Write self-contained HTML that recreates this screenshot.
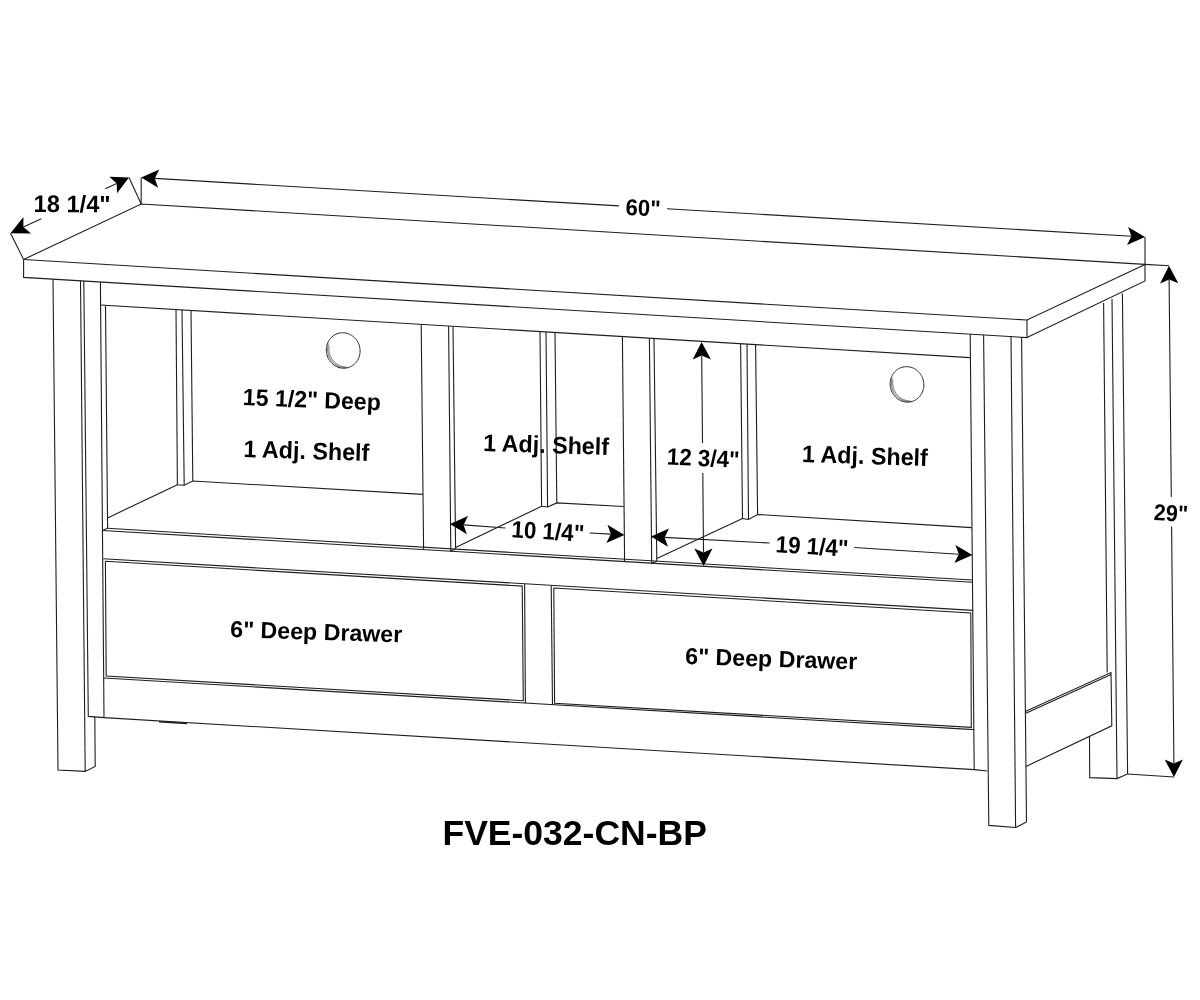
<!DOCTYPE html>
<html><head><meta charset="utf-8"><title>FVE-032-CN-BP</title>
<style>
html,body{margin:0;padding:0;background:#fff;}
svg{display:block;filter:grayscale(1);}
text{font-family:"Liberation Sans",sans-serif;font-weight:bold;fill:#000;}
</style></head>
<body>
<svg width="1200" height="1000" viewBox="0 0 1200 1000">
<rect width="1200" height="1000" fill="#fff"/>
<path d="M23.6,259.5 L141.2,204.0 L1145.0,264.4 L1027.0,320.0 L23.6,259.5" fill="none" stroke="#1e1e1e" stroke-width="1.1"/>
<path d="M23.6,259.5 L23.6,277.4 L1027.0,337.6 L1027.0,320.0" fill="none" stroke="#1e1e1e" stroke-width="1.1"/>
<path d="M1027.0,337.6 L1145.0,281.0 L1145.0,264.4" fill="none" stroke="#1e1e1e" stroke-width="1.1"/>
<path d="M23.6,259.5 L10.5,233.2" fill="none" stroke="#1e1e1e" stroke-width="1.1"/>
<path d="M141.2,204.0 L129.0,177.6" fill="none" stroke="#1e1e1e" stroke-width="1.1"/>
<path d="M10.5,233.2 L23.4,217.1 L23.4,227.1 L31.1,233.6 Z" fill="#000"/>
<path d="M23.4,227.1 L41.3,218.7" fill="none" stroke="#1e1e1e" stroke-width="1.1"/>
<path d="M129.0,177.6 L117.0,193.3 L116.7,183.4 L109.3,176.8 Z" fill="#000"/>
<path d="M116.7,183.4 L105.3,188.7" fill="none" stroke="#1e1e1e" stroke-width="1.1"/>
<text transform="translate(33.60 212.00) rotate(0.4) scale(0.985 1)" font-size="24.0">18 1/4&quot;</text>
<path d="M141.2,204.0 L141.2,177.6" fill="none" stroke="#1e1e1e" stroke-width="1.1"/>
<path d="M1145.0,264.4 L1145.0,237.0" fill="none" stroke="#1e1e1e" stroke-width="1.1"/>
<path d="M141.2,177.6 L159.2,169.5 L154.8,178.4 L158.1,187.7 Z" fill="#000"/>
<path d="M154.8,178.4 L619.0,205.9" fill="none" stroke="#1e1e1e" stroke-width="1.1"/>
<path d="M1145.0,237.0 L1127.0,245.1 L1131.4,236.2 L1128.1,226.9 Z" fill="#000"/>
<path d="M667.0,208.7 L1131.4,236.2" fill="none" stroke="#1e1e1e" stroke-width="1.1"/>
<text transform="translate(625.20 214.90) rotate(2.9) scale(0.95 1)" font-size="23.2">60&quot;</text>
<path d="M1145.0,264.4 L1169.0,265.8" fill="none" stroke="#1e1e1e" stroke-width="1.1"/>
<path d="M1127.6,774.0 L1174.0,777.0" fill="none" stroke="#1e1e1e" stroke-width="1.1"/>
<path d="M1169.0,265.8 L1178.3,283.2 L1169.1,279.4 L1160.1,283.4 Z" fill="#000"/>
<path d="M1169.1,279.4 L1171.3,497.0" fill="none" stroke="#1e1e1e" stroke-width="1.1"/>
<path d="M1174.0,777.0 L1164.7,759.6 L1173.9,763.4 L1182.9,759.4 Z" fill="#000"/>
<path d="M1171.6,526.6 L1173.9,763.4" fill="none" stroke="#1e1e1e" stroke-width="1.1"/>
<text transform="translate(1153.60 520.00) rotate(3) scale(0.935 1)" font-size="23">29&quot;</text>
<path d="M53.0,279.2 L58.0,770.0 L85.2,771.4 L95.2,766.4 L94.8,717.0" fill="none" stroke="#1e1e1e" stroke-width="1.1"/>
<path d="M80.5,280.8 L85.2,771.4" fill="none" stroke="#1e1e1e" stroke-width="1.1"/>
<path d="M83.8,281.0 L88.3,716.4 L104.0,717.6" fill="none" stroke="#1e1e1e" stroke-width="1.1"/>
<path d="M100.4,282.0 L104.0,717.6" fill="none" stroke="#1e1e1e" stroke-width="1.1"/>
<path d="M105.5,305.5 L107.6,528.4" fill="none" stroke="#1e1e1e" stroke-width="1.1"/>
<path d="M100.4,305.0 L970.0,357.6" fill="none" stroke="#1e1e1e" stroke-width="1.1"/>
<path d="M176.0,309.8 L177.4,484.8 L184.2,485.3 L192.8,481.0 L422.6,494.4" fill="none" stroke="#1e1e1e" stroke-width="1.1"/>
<path d="M182.0,310.1 L184.2,485.3" fill="none" stroke="#1e1e1e" stroke-width="1.1"/>
<path d="M191.0,310.7 L192.8,481.0" fill="none" stroke="#1e1e1e" stroke-width="1.1"/>
<path d="M107.5,517.9 L177.4,484.8" fill="none" stroke="#1e1e1e" stroke-width="1.1"/>
<path d="M421.2,324.6 L423.6,549.6" fill="none" stroke="#1e1e1e" stroke-width="1.1"/>
<path d="M448.6,326.3 L450.8,551.2 L455.6,548.8" fill="none" stroke="#1e1e1e" stroke-width="1.1"/>
<path d="M453.0,326.5 L455.6,548.8" fill="none" stroke="#1e1e1e" stroke-width="1.1"/>
<path d="M455.6,547.6 L541.6,506.3" fill="none" stroke="#1e1e1e" stroke-width="1.1"/>
<path d="M540.0,331.8 L541.6,506.3 L547.6,507.0 L556.8,502.9 L623.7,506.5" fill="none" stroke="#1e1e1e" stroke-width="1.1"/>
<path d="M546.0,332.2 L547.6,507.0" fill="none" stroke="#1e1e1e" stroke-width="1.1"/>
<path d="M555.0,332.7 L556.8,502.9" fill="none" stroke="#1e1e1e" stroke-width="1.1"/>
<path d="M622.4,336.8 L624.6,561.5" fill="none" stroke="#1e1e1e" stroke-width="1.1"/>
<path d="M649.4,338.4 L651.7,563.3 L656.8,561.2" fill="none" stroke="#1e1e1e" stroke-width="1.1"/>
<path d="M654.0,338.7 L656.8,561.2" fill="none" stroke="#1e1e1e" stroke-width="1.1"/>
<path d="M656.8,558.5 L742.5,518.5" fill="none" stroke="#1e1e1e" stroke-width="1.1"/>
<path d="M740.6,343.9 L742.5,518.5 L748.5,519.5 L757.6,514.5 L971.8,527.6" fill="none" stroke="#1e1e1e" stroke-width="1.1"/>
<path d="M747.0,344.3 L748.5,519.5" fill="none" stroke="#1e1e1e" stroke-width="1.1"/>
<path d="M755.6,344.8 L757.6,514.5" fill="none" stroke="#1e1e1e" stroke-width="1.1"/>
<path d="M107.5,528.3 L972.3,580.0" fill="none" stroke="#1e1e1e" stroke-width="1.1"/>
<path d="M107.5,528.3 L102.6,530.5 L972.5,582.3" fill="none" stroke="#1e1e1e" stroke-width="1.1"/>
<path d="M103.3,558.8 L973.3,610.4" fill="none" stroke="#1e1e1e" stroke-width="1.1"/>
<path d="M105.4,561.2 L522.2,586.1 L523.3,700.7 L106.2,676.0 L105.4,561.2" fill="none" stroke="#1e1e1e" stroke-width="1.1"/>
<path d="M524.6,583.8 L525.4,703.3" fill="none" stroke="#1e1e1e" stroke-width="1.1"/>
<path d="M551.2,585.4 L552.5,705.0" fill="none" stroke="#1e1e1e" stroke-width="1.1"/>
<path d="M553.8,588.0 L970.8,612.9 L971.3,727.4 L554.6,703.3 L553.8,588.0" fill="none" stroke="#1e1e1e" stroke-width="1.1"/>
<path d="M104.0,678.0 L974.0,729.6" fill="none" stroke="#1e1e1e" stroke-width="1.1"/>
<path d="M104.0,717.6 L974.2,769.6 L987.3,771.0" fill="none" stroke="#1e1e1e" stroke-width="1.1"/>
<path d="M159.0,721.8 L187.0,723.4" fill="none" stroke="#1e1e1e" stroke-width="1.6"/>
<path d="M970.2,334.2 L974.2,769.6" fill="none" stroke="#1e1e1e" stroke-width="1.1"/>
<path d="M983.6,335.0 L988.8,825.4 L1015.6,827.5 L1026.5,822.0" fill="none" stroke="#1e1e1e" stroke-width="1.1"/>
<path d="M1011.0,336.6 L1015.6,827.5" fill="none" stroke="#1e1e1e" stroke-width="1.1"/>
<path d="M1021.6,337.4 L1026.5,822.0" fill="none" stroke="#1e1e1e" stroke-width="1.1"/>
<path d="M1103.6,303.0 L1107.2,672.6" fill="none" stroke="#1e1e1e" stroke-width="1.1"/>
<path d="M1112.0,299.0 L1117.0,778.6" fill="none" stroke="#1e1e1e" stroke-width="1.1"/>
<path d="M1122.4,293.6 L1127.6,774.0 L1117.0,778.6 L1089.7,777.6 L1089.5,736.6" fill="none" stroke="#1e1e1e" stroke-width="1.1"/>
<path d="M1025.3,711.6 L1111.0,672.6 L1111.8,725.8 L1026.0,766.4" fill="none" stroke="#1e1e1e" stroke-width="1.1"/>
<path d="M1025.3,713.6 L1111.1,674.6" fill="none" stroke="#1e1e1e" stroke-width="1.1"/>
<path d="M359.43,346.15 L359.71,347.36 L359.91,348.59 L360.03,349.82 L360.07,351.06 L360.02,352.29 L359.90,353.52 L359.69,354.73 L359.40,355.92 L359.04,357.09 L358.59,358.22 L358.07,359.32 L357.48,360.37 L356.82,361.37 L356.09,362.32 L355.30,363.22 L354.45,364.05 L353.55,364.81 L352.60,365.51 L351.60,366.13 L350.55,366.68 L349.48,367.14 L348.37,367.53 L347.24,367.83 L346.09,368.05 L344.92,368.19 L343.74,368.23 L342.57,368.20 L341.39,368.07 L340.23,367.86 L339.08,367.56 L337.95,367.19 L336.84,366.73 L335.77,366.19 L334.73,365.57 L333.73,364.88 L332.78,364.12 L331.88,363.30 L331.03,362.41 L330.25,361.47 L329.53,360.47 L328.87,359.42 L328.28,358.33 L327.77,357.20 L327.33,356.04 L326.97,354.85 L326.69,353.64 L326.49,352.41 L326.37,351.18 L326.33,349.94 L326.38,348.71 L326.50,347.48 L326.71,346.27 L327.00,345.08 L327.36,343.91 L327.81,342.78 L328.33,341.68 L328.92,340.63 L329.58,339.63 L330.31,338.68 L331.10,337.78 L331.95,336.95 L332.85,336.19 L333.80,335.49 L334.80,334.87 L335.85,334.32 L336.92,333.86 L338.03,333.47 L339.16,333.17 L340.31,332.95 L341.48,332.81 L342.66,332.77 L343.83,332.80 L345.01,332.93 L346.17,333.14 L347.32,333.44 L348.45,333.81 L349.56,334.27 L350.63,334.81 L351.67,335.43 L352.67,336.12 L353.62,336.88 L354.52,337.70 L355.37,338.59 L356.15,339.53 L356.87,340.53 L357.53,341.58 L358.12,342.67 L358.63,343.80 L359.07,344.96 L359.43,346.15" fill="none" stroke="#1e1e1e" stroke-width="0.95" stroke-linejoin="round"/>
<path d="M347.68,367.41 L346.80,367.53 L345.93,367.61 L345.04,367.63 L344.16,367.61 L343.28,367.54 L342.40,367.43 L341.53,367.26 L340.66,367.05 L339.81,366.79 L338.97,366.48 L338.14,366.13 L337.33,365.73 L336.54,365.29 L335.77,364.81 L335.03,364.28 L334.31,363.72 L333.62,363.12 L332.96,362.48 L332.33,361.81 L331.74,361.11 L331.18,360.37 L330.66,359.61 L330.17,358.82 L329.72,358.00 L329.32,357.17 L328.95,356.31 L328.63,355.44 L328.36,354.55 L328.12,353.65 L327.93,352.73 L327.79,351.81 L327.69,350.89 L327.64,349.96 L327.63,349.03 L327.68,348.11 L327.76,347.18 L327.90,346.27 L328.07,345.37 L328.30,344.48 L328.56,343.60" fill="none" stroke="#333" stroke-width="0.7" stroke-linejoin="round"/>
<path d="M346.05,367.03 L345.31,367.01 L344.58,366.94 L343.85,366.85 L343.12,366.72 L342.39,366.56 L341.68,366.36 L340.97,366.14 L340.27,365.88 L339.58,365.59 L338.90,365.27 L338.23,364.91 L337.58,364.53 L336.95,364.12 L336.33,363.68 L335.73,363.22 L335.15,362.72 L334.59,362.21 L334.05,361.66 L333.53,361.10 L333.04,360.51 L332.57,359.90 L332.13,359.27 L331.71,358.62 L331.32,357.95 L330.95,357.27 L330.62,356.57 L330.31,355.86 L330.04,355.13 L329.79,354.39 L329.57,353.65 L329.39,352.89 L329.23,352.13 L329.11,351.37 L329.02,350.60 L328.96,349.82 L328.93,349.05 L328.94,348.28 L328.98,347.51 L329.04,346.74 L329.15,345.97" fill="none" stroke="#333" stroke-width="0.7" stroke-linejoin="round"/>
<path d="M923.23,380.05 L923.51,381.26 L923.71,382.49 L923.83,383.72 L923.87,384.96 L923.82,386.19 L923.70,387.42 L923.49,388.63 L923.20,389.82 L922.84,390.99 L922.39,392.12 L921.87,393.22 L921.28,394.27 L920.62,395.27 L919.89,396.22 L919.10,397.12 L918.25,397.95 L917.35,398.71 L916.40,399.41 L915.40,400.03 L914.35,400.58 L913.28,401.04 L912.17,401.43 L911.04,401.73 L909.89,401.95 L908.72,402.09 L907.54,402.13 L906.37,402.10 L905.19,401.97 L904.03,401.76 L902.88,401.46 L901.75,401.09 L900.64,400.63 L899.57,400.09 L898.53,399.47 L897.53,398.78 L896.58,398.02 L895.68,397.20 L894.83,396.31 L894.05,395.37 L893.33,394.37 L892.67,393.32 L892.08,392.23 L891.57,391.10 L891.13,389.94 L890.77,388.75 L890.49,387.54 L890.29,386.31 L890.17,385.08 L890.13,383.84 L890.18,382.61 L890.30,381.38 L890.51,380.17 L890.80,378.98 L891.16,377.81 L891.61,376.68 L892.13,375.58 L892.72,374.53 L893.38,373.53 L894.11,372.58 L894.90,371.68 L895.75,370.85 L896.65,370.09 L897.60,369.39 L898.60,368.77 L899.65,368.22 L900.72,367.76 L901.83,367.37 L902.96,367.07 L904.11,366.85 L905.28,366.71 L906.46,366.67 L907.63,366.70 L908.81,366.83 L909.97,367.04 L911.12,367.34 L912.25,367.71 L913.36,368.17 L914.43,368.71 L915.47,369.33 L916.47,370.02 L917.42,370.78 L918.32,371.60 L919.17,372.49 L919.95,373.43 L920.67,374.43 L921.33,375.48 L921.92,376.57 L922.43,377.70 L922.87,378.86 L923.23,380.05" fill="none" stroke="#1e1e1e" stroke-width="0.95" stroke-linejoin="round"/>
<path d="M911.48,401.31 L910.60,401.43 L909.73,401.51 L908.84,401.53 L907.96,401.51 L907.08,401.44 L906.20,401.33 L905.33,401.16 L904.46,400.95 L903.61,400.69 L902.77,400.38 L901.94,400.03 L901.13,399.63 L900.34,399.19 L899.57,398.71 L898.83,398.18 L898.11,397.62 L897.42,397.02 L896.76,396.38 L896.13,395.71 L895.54,395.01 L894.98,394.27 L894.46,393.51 L893.97,392.72 L893.52,391.90 L893.12,391.07 L892.75,390.21 L892.43,389.34 L892.16,388.45 L891.92,387.55 L891.73,386.63 L891.59,385.71 L891.49,384.79 L891.44,383.86 L891.43,382.93 L891.48,382.01 L891.56,381.08 L891.70,380.17 L891.87,379.27 L892.10,378.38 L892.36,377.50" fill="none" stroke="#333" stroke-width="0.7" stroke-linejoin="round"/>
<path d="M909.85,400.93 L909.11,400.91 L908.38,400.84 L907.65,400.75 L906.92,400.62 L906.19,400.46 L905.48,400.26 L904.77,400.04 L904.07,399.78 L903.38,399.49 L902.70,399.17 L902.03,398.81 L901.38,398.43 L900.75,398.02 L900.13,397.58 L899.53,397.12 L898.95,396.62 L898.39,396.11 L897.85,395.56 L897.33,395.00 L896.84,394.41 L896.37,393.80 L895.93,393.17 L895.51,392.52 L895.12,391.85 L894.75,391.17 L894.42,390.47 L894.11,389.76 L893.84,389.03 L893.59,388.29 L893.37,387.55 L893.19,386.79 L893.03,386.03 L892.91,385.27 L892.82,384.50 L892.76,383.72 L892.73,382.95 L892.74,382.18 L892.78,381.41 L892.84,380.64 L892.95,379.87" fill="none" stroke="#333" stroke-width="0.7" stroke-linejoin="round"/>
<path d="M701.6,342.0 L710.9,359.4 L701.7,355.6 L692.7,359.6 Z" fill="#000"/>
<path d="M701.7,355.6 L702.5,443.0" fill="none" stroke="#1e1e1e" stroke-width="1.1"/>
<path d="M703.6,566.0 L694.3,548.6 L703.5,552.4 L712.5,548.4 Z" fill="#000"/>
<path d="M702.8,473.0 L703.5,552.4" fill="none" stroke="#1e1e1e" stroke-width="1.1"/>
<text transform="translate(666.50 464.40) rotate(2.8) scale(0.94 1)" font-size="23.8">12 3/4&quot;</text>
<path d="M450.0,524.0 L468.0,516.0 L463.6,524.9 L466.9,534.2 Z" fill="#000"/>
<path d="M463.6,524.9 L505.4,528.0" fill="none" stroke="#1e1e1e" stroke-width="1.1"/>
<path d="M624.4,535.0 L606.4,543.0 L610.8,534.1 L607.5,524.8 Z" fill="#000"/>
<path d="M589.6,533.0 L610.8,534.1" fill="none" stroke="#1e1e1e" stroke-width="1.1"/>
<text transform="translate(511.10 537.20) rotate(3.5) scale(0.94 1)" font-size="23.8">10 1/4&quot;</text>
<path d="M651.0,536.6 L669.0,528.5 L664.6,537.4 L668.0,546.7 Z" fill="#000"/>
<path d="M664.6,537.4 L769.6,543.0" fill="none" stroke="#1e1e1e" stroke-width="1.1"/>
<path d="M972.4,555.0 L954.4,563.1 L958.8,554.2 L955.4,544.9 Z" fill="#000"/>
<path d="M854.2,547.5 L958.8,554.2" fill="none" stroke="#1e1e1e" stroke-width="1.1"/>
<text transform="translate(775.30 552.20) rotate(3.5) scale(0.94 1)" font-size="23.8">19 1/4&quot;</text>
<text transform="translate(242.60 405.00) rotate(2.2) scale(0.983 1)" font-size="23.5">15 1/2&quot; Deep</text>
<text transform="translate(243.30 457.00) rotate(1.8) scale(0.97 1)" font-size="24">1 Adj. Shelf</text>
<text transform="translate(483.00 451.00) rotate(1.8) scale(0.97 1)" font-size="24">1 Adj. Shelf</text>
<text transform="translate(801.80 462.00) rotate(1.8) scale(0.97 1)" font-size="24">1 Adj. Shelf</text>
<text transform="translate(230.00 637.00) rotate(1.8)" font-size="23.2">6&quot; Deep Drawer</text>
<text transform="translate(685.00 664.00) rotate(1.8)" font-size="23.2">6&quot; Deep Drawer</text>
<text transform="translate(442.50 844.50)" font-size="35.5">FVE-032-CN-BP</text>
</svg>
</body></html>
